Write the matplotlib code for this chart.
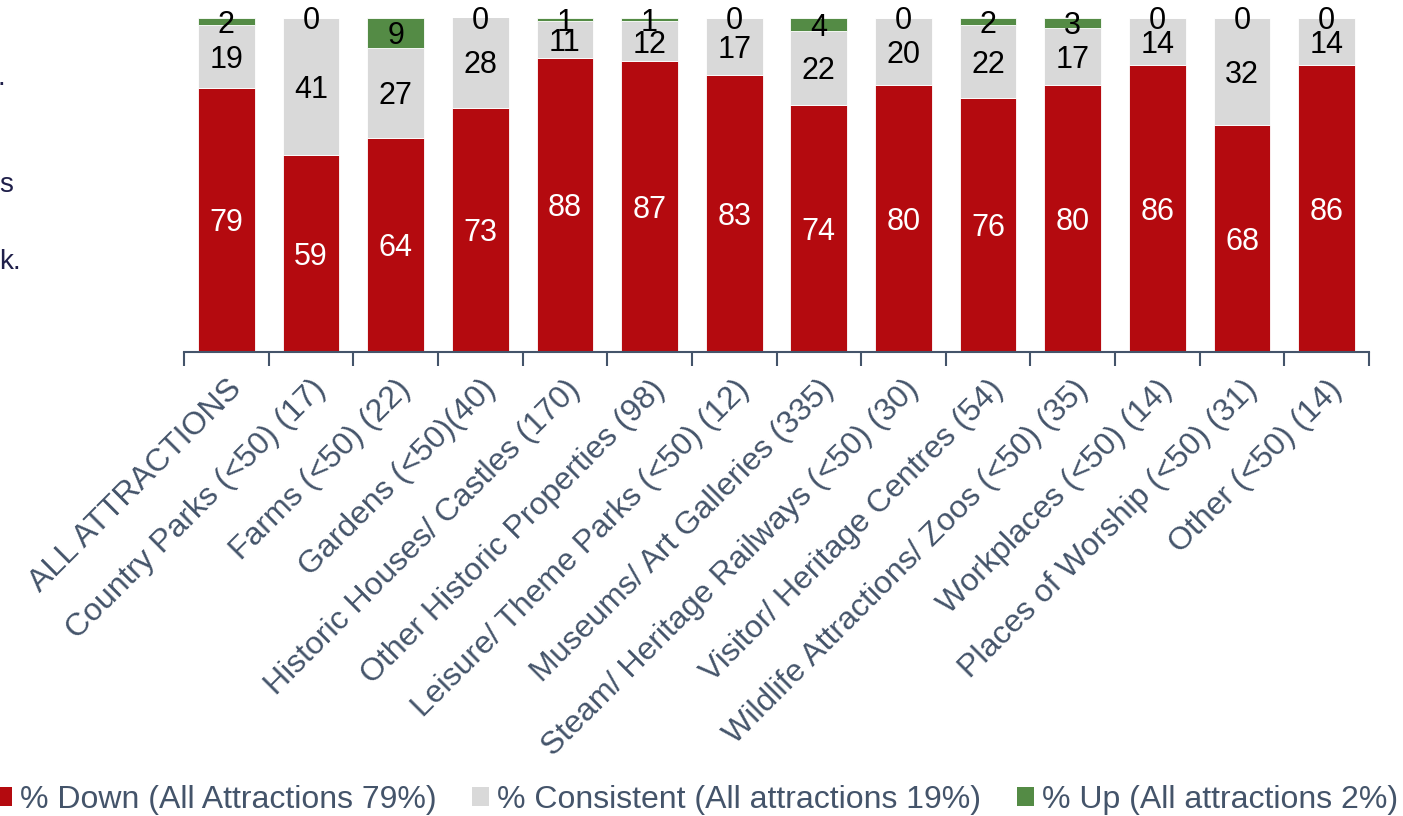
import numpy as np
import matplotlib as mpl
mpl.use('Agg')
import matplotlib.pyplot as plt
from matplotlib.patches import Patch

plt.rcParams['font.family'] = ['Liberation Sans', 'DejaVu Sans']

categories = ['ALL ATTRACTIONS', 'Country Parks (<50) (17)', 'Farms (<50) (22)',
              'Gardens (<50)(40)', 'Historic Houses/ Castles (170)',
              'Other Historic Properties (98)', 'Leisure/ Theme Parks (<50) (12)',
              'Museums/ Art Galleries (335)', 'Steam/ Heritage Railways (<50) (30)',
              'Visitor/ Heritage Centres (54)', 'Wildlife Attractions/ Zoos (<50) (35)',
              'Workplaces (<50) (14)', 'Places of Worship (<50) (31)', 'Other (<50) (14)']
down = [79, 59, 64, 73, 88, 87, 83, 74, 80, 76, 80, 86, 68, 86]
consistent = [19, 41, 27, 28, 11, 12, 17, 22, 20, 22, 17, 14, 32, 14]
up = [2, 0, 9, 0, 1, 1, 0, 4, 0, 2, 3, 0, 0, 0]
legend_labels = ['% Down (All Attractions 79%)', '% Consistent (All attractions 19%)',
                 '% Up (All attractions 2%)']

red = '#B40A0F'
grey = '#D9D9D9'
green = '#548B45'
slate = '#44546A'

fig = plt.figure(figsize=(14.03, 8.16), dpi=100)
ax = fig.add_axes([184 / 1403, 1 - 352 / 816, (1369 - 184) / 1403, 334 / 816])

x = np.arange(len(categories))
down = np.array(down)
consistent = np.array(consistent)
up = np.array(up)
w = 0.67
ax.bar(x, down, w, color=red, edgecolor='white', linewidth=0.6)
ax.bar(x, consistent, w, bottom=down, color=grey, edgecolor='white', linewidth=0.6)
ax.bar(x, up, w, bottom=down + consistent, color=green, edgecolor='white', linewidth=0.6)

dy = -1.0  # nudge labels down a little
for i in x:
    ax.text(i, down[i] / 2 + dy, str(down[i]), ha='center', va='center', color='white', fontsize=22)
    ax.text(i, down[i] + consistent[i] / 2 + dy, str(consistent[i]), ha='center', va='center',
            color='black', fontsize=22)
    top = min(down[i] + consistent[i], 100 - up[i])
    ax.text(i, top + up[i] / 2 + dy, str(up[i]), ha='center', va='center',
            color='black', fontsize=22, clip_on=False)

ax.set_xlim(-0.5, len(categories) - 0.5)
ax.set_ylim(0, 100)
for s in ['top', 'right', 'left']:
    ax.spines[s].set_visible(False)
ax.spines['bottom'].set_color(slate)
ax.spines['bottom'].set_linewidth(1.5)
ax.set_yticks([])

# ticks sit between the categories, labels at the bar centres
ax.set_xticks(np.arange(len(categories) + 1) - 0.5)
ax.set_xticklabels([])
ax.tick_params(axis='x', which='major', length=10, width=1.5, color=slate, direction='out')
ax.set_xticks(x, minor=True)
ax.set_xticklabels(categories, minor=True, rotation=45, ha='right', va='top',
                   rotation_mode='anchor', fontsize=23, color=slate)
ax.tick_params(axis='x', which='minor', length=0, pad=16)

handles = [Patch(facecolor=c) for c in (red, grey, green)]
fig.legend(handles, legend_labels, loc='center', bbox_to_anchor=(0.4964, 1 - 800 / 816),
           ncol=3, frameon=False, fontsize=23, labelcolor=slate, handlelength=0.55,
           handleheight=0.55, handletextpad=0.25, columnspacing=1.1,
           borderpad=0, borderaxespad=0)

# edge of the neighbouring text block
for txt, px, py in [('.', -2, 78), ('s', -1, 185), ('k.', -1, 262)]:
    fig.text(px / 1403, 1 - py / 816, txt, ha='left', va='center', fontsize=20, color='#1F1F4A')

fig.savefig('out.png', dpi=100)
